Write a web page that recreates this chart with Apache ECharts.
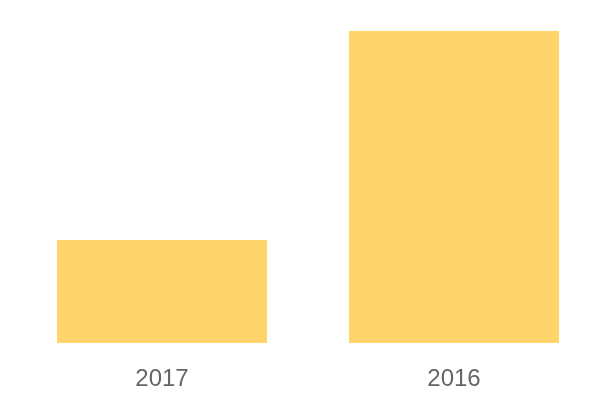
<!DOCTYPE html>
<html>
<head>
<meta charset="utf-8">
<style>html,body{margin:0;padding:0;background:#fff;}#chart{width:600px;height:400px;}</style>
<script src="https://cdn.jsdelivr.net/npm/echarts@6/dist/echarts.min.js"></script>
</head>
<body>
<div id="chart"></div>
<script>
const categories = ['2017', '2016'];
const values = [33, 100];

const chart = echarts.init(document.getElementById('chart'), null, {renderer: 'canvas'});
chart.setOption({
  animation: false,
  grid: {left: 16, right: 0, top: 31, bottom: 57, containLabel: false},
  xAxis: {
    type: 'category',
    data: categories,
    axisLine: {show: false},
    axisTick: {show: false},
    axisLabel: {color: '#666666', fontSize: 24, fontFamily: 'Liberation Sans, Arial, sans-serif', margin: 24}
  },
  yAxis: {
    type: 'value', min: 0, max: 100, show: false,
    splitLine: {show: false}
  },
  series: [{
    type: 'bar',
    data: values,
    barWidth: 210,
    itemStyle: {color: '#FFD56B'}
  }]
});
</script>
</body>
</html>
